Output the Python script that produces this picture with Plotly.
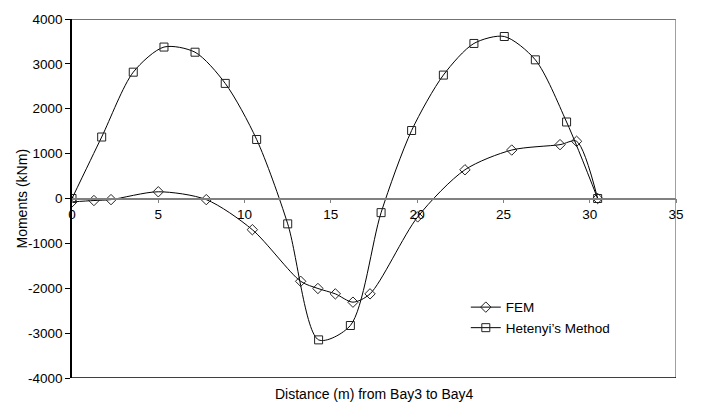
import plotly.graph_objects as go

# Bending moments along the beam from Bay3 to Bay4
fem_x = [0.0, 1.27, 2.26, 5.0, 7.78, 10.45, 13.25, 14.25, 15.26, 16.28, 17.27,
         20.03, 22.77, 25.48, 28.28, 29.24, 30.46]
fem_m = [-75, -45, -25, 150, -25, -695, -1845, -2005, -2125, -2310, -2125,
         -410, 640, 1080, 1200, 1275, 0]

het_x = [0.0, 1.72, 3.55, 5.33, 7.13, 8.88, 10.70, 12.50, 14.29, 16.13, 17.91,
         19.68, 21.52, 23.29, 25.05, 26.85, 28.66, 30.46]
het_m = [0, 1370, 2815, 3375, 3260, 2565, 1315, -565, -3150, -2830, -315,
         1515, 2750, 3455, 3610, 3090, 1705, 0]

x_ticks = [0, 5, 10, 15, 20, 25, 30, 35]
y_ticks = [-4000, -3000, -2000, -1000, 0, 1000, 2000, 3000, 4000]

FONT = "Liberation Sans, Arial, sans-serif"

fig = go.Figure()
fig.add_trace(go.Scatter(
    x=fem_x, y=fem_m, name="FEM", mode="lines+markers",
    line=dict(color="black", width=1, shape="spline", smoothing=0.8),
    marker=dict(symbol="diamond-open", size=8, color="#222222",
                line=dict(width=1, color="#222222")),
))
fig.add_trace(go.Scatter(
    x=het_x, y=het_m, name="Hetenyi\u2019s Method", mode="lines+markers",
    line=dict(color="black", width=1, shape="spline", smoothing=0.8),
    marker=dict(symbol="square-open", size=8, color="#222222",
                line=dict(width=1, color="#222222")),
))

# plot-area frame: dark top, grey right, black bottom
fig.add_shape(type="line", xref="x", yref="y", x0=0, x1=35, y0=4000, y1=4000,
              line=dict(color="#444444", width=1.5), layer="below")
fig.add_shape(type="line", xref="x", yref="y", x0=35, x1=35, y0=-4000, y1=4000,
              line=dict(color="#808080", width=1.5), layer="below")
fig.add_shape(type="line", xref="x", yref="y", x0=0, x1=35, y0=-4000, y1=-4000,
              line=dict(color="black", width=1.5), layer="below")

fig.update_layout(
    width=701, height=406,
    margin=dict(l=72, r=25, t=13, b=28),
    paper_bgcolor="white", plot_bgcolor="white",
    font=dict(family=FONT, size=13, color="black"),
    showlegend=True,
    legend=dict(x=0.652, y=0.24, xanchor="left", yanchor="top",
                bgcolor="rgba(0,0,0,0)", borderwidth=0,
                font=dict(family=FONT, size=13.5, color="black"),
                itemwidth=30, tracegroupgap=0),
    xaxis=dict(range=[0, 35], tickvals=x_ticks, ticktext=[str(v) for v in x_ticks],
               anchor="free", position=0.5,
               showline=True, linecolor="#808080", linewidth=1.5,
               ticks="outside", ticklen=4, tickcolor="#808080", tickwidth=1,
               showgrid=False, zeroline=False,
               tickfont=dict(family=FONT, size=13.5, color="black")),
    yaxis=dict(range=[-4000, 4000], tickvals=y_ticks, ticktext=[str(v) for v in y_ticks],
               showline=True, linecolor="black", linewidth=1.5,
               ticks="outside", ticklen=5, tickcolor="black", tickwidth=1,
               showgrid=False, zeroline=False,
               tickfont=dict(family=FONT, size=13.5, color="black")),
    annotations=[
        dict(text="Moments (kNm)", xref="paper", yref="paper", x=0, y=0.5,
             xshift=-51, textangle=-90, showarrow=False,
             xanchor="center", yanchor="middle",
             font=dict(family=FONT, size=14, color="black")),
        dict(text="Distance (m) from Bay3 to Bay4", xref="paper", yref="paper",
             x=0.5, y=0, yshift=-16, showarrow=False,
             xanchor="center", yanchor="middle",
             font=dict(family=FONT, size=14, color="black")),
    ],
)

fig.write_html("out.html")
